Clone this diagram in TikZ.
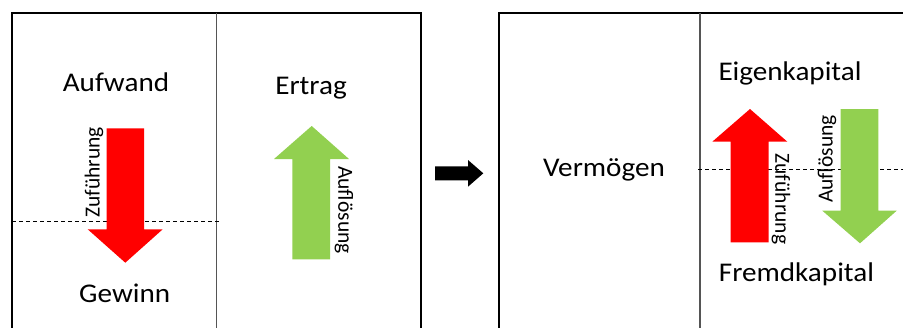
\documentclass[tikz,border=0pt]{standalone}
\usepackage{fontspec}
\setmainfont{Carlito}
\newfontfamily\widefont[FakeStretch=1.08]{Carlito}
\definecolor{offred}{HTML}{FF0000}
\definecolor{offgreen}{HTML}{92D050}
\definecolor{divgray}{HTML}{555555}
\begin{document}
\begin{tikzpicture}[x=1pt,y=-1pt,
  frame/.style={draw=black,line width=2pt},
  divider/.style={draw=divgray,line width=1.4pt},
  guide/.style={draw=black,line width=0.9pt,dash pattern=on 4pt off 3pt},
  title/.style={inner sep=0pt,font=\widefont\fontsize{27}{30}\selectfont},
  tag/.style={inner sep=0pt,font=\fontsize{21.5}{24}\selectfont}]
\useasboundingbox (0,0) rectangle (903,327);
\clip (0,0) rectangle (903,327);

% --- income statement (left account) ---
\draw[frame] (12,12.5) rectangle (420.5,340);
\draw[divider] (216.7,12.5) -- (216.7,340);
\draw[guide] (12,221) -- (221,221);

\node[title,anchor=base] (aufwand) at (116,91.7) {Aufwand};
\node[title,anchor=base] (ertrag) at (311,94.3) {Ertrag};
\node[title,anchor=base] (gewinn) at (124.7,302.7) {Gewinn};

% red block arrow pointing down
\fill[offred] (106.7,128.3) -- (144,128.3) -- (144,229.3) -- (162.7,229.3)
  -- (125.3,262.7) -- (87.7,229.3) -- (106.7,229.3) -- cycle;
\node[tag,rotate=90] (zuf1) at (94,172.5) {Zuführung};

% green block arrow pointing up
\fill[offgreen] (292.3,259.3) -- (330,259.3) -- (330,159) -- (349,159)
  -- (311.7,126) -- (274,159) -- (292.3,159) -- cycle;
\node[tag,rotate=-90] (aufl1) at (344,210) {Auflösung};

% --- transition arrow ---
\fill[black] (435,166.3) -- (468,166.3) -- (468,160) -- (483.3,173.3)
  -- (468,186.7) -- (468,180.3) -- (435,180.3) -- cycle;

% --- balance sheet (right account) ---
\draw[frame] (498.5,12.5) rectangle (920,340);
\draw[divider] (700,12.5) -- (700,340);
\draw[guide] (698,169) -- (903,169);

\node[title,anchor=base] (verm) at (604,176.7) {Vermögen};
\node[title,anchor=base west] (ek) at (718.3,80) {Eigenkapital};
\node[title,anchor=base west] (fk) at (718.7,281.7) {Fremdkapital};

% red block arrow pointing up
\fill[offred] (730.7,242.3) -- (768.7,242.3) -- (768.7,141.7) -- (787.3,141.7)
  -- (750,109) -- (712.3,141.7) -- (730.7,141.7) -- cycle;
\node[tag,rotate=-90] (zuf2) at (781,199) {Zuführung};

% green block arrow pointing down
\fill[offgreen] (840.7,109) -- (878.3,109) -- (878.3,210.7) -- (896.7,210.7)
  -- (860,243.3) -- (822.3,210.7) -- (840.7,210.7) -- cycle;
\node[tag,rotate=90] (aufl2) at (827,159) {Auflösung};
\end{tikzpicture}
\end{document}
